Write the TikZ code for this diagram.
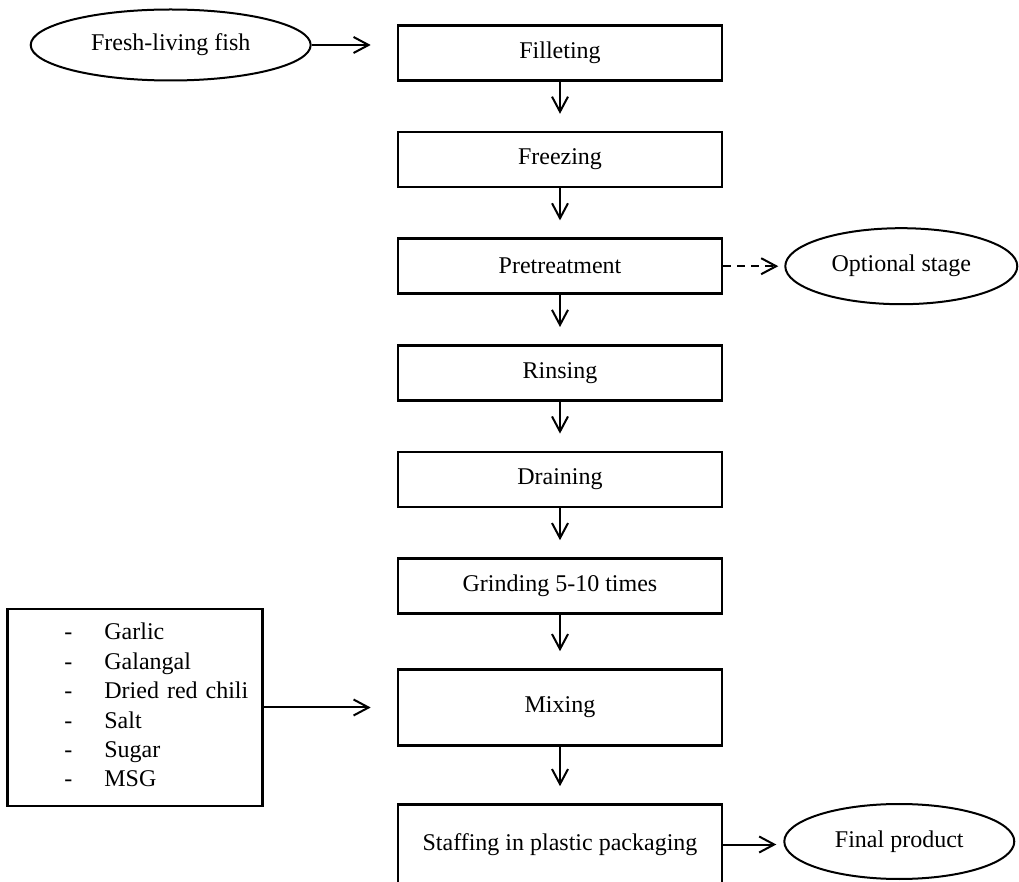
\documentclass[tikz,border=0pt]{standalone}
\usepackage{fontspec}
\setmainfont{Liberation Serif}
\usetikzlibrary{shapes.geometric, arrows.meta, positioning}

\begin{document}
\begin{tikzpicture}[
    node distance=24.5pt,
    font=\fontsize{12}{14.7}\selectfont,
    box/.style={rectangle, draw, line width=1.3pt, minimum width=162pt, minimum height=27.5pt, inner sep=0pt},
    oval/.style={ellipse, draw, line width=1pt, inner sep=0pt},
    arrow/.style={-{Straight Barb[length=7.5pt, width=8pt]}, line width=1pt}
]
    \useasboundingbox (-280pt,26.5pt) rectangle (229.5pt,-414.5pt);

    % Nodes
    \node[box] (fillet) {Filleting};
    \node[box, below=of fillet] (freeze) {Freezing};
    \node[box, below=of freeze] (pret) {Pretreatment};
    \node[box, below=of pret] (rinse) {Rinsing};
    \node[box, below=of rinse] (drain) {Draining};
    \node[box, below=of drain] (grind) {Grinding 5-10 times};
    \node[box, minimum height=38pt, below=26.7pt of grind] (mix) {Mixing};
    \node[box, minimum height=40pt, below=28.2pt of mix] (staff) {Staffing in plastic packaging};

    \node[oval, minimum width=140pt, minimum height=35.5pt, left=42.5pt of fillet, yshift=4pt] (fish) {Fresh-living fish};
    \node[oval, minimum width=116pt, minimum height=38pt, right=30.5pt of pret] (opt) {Optional stage};
    \node[oval, minimum width=115pt, minimum height=37.5pt, right=30pt of staff, yshift=1.5pt] (final) {Final product};
    \node[draw, line width=1.3pt, text width=127.5pt, minimum height=98.5pt, inner xsep=0pt, align=left, left=66.5pt of mix] (ingr) {%
        \noindent\begin{tabular}{@{\hspace{28.5pt}}l@{\hspace{16pt}}l@{}}
            - & Garlic\\
            - & Galangal\\
            - & Dried red chili\\
            - & Salt\\
            - & Sugar\\
            - & MSG
        \end{tabular}};

    % Arrows
    \draw[arrow, shorten >=13pt] (fish.east) -- (fish.east -| fillet.west);
    \foreach \a/\b in {fillet/freeze, freeze/pret, pret/rinse, rinse/drain, drain/grind, grind/mix, mix/staff}
        \draw[arrow, shorten >=8.5pt] (\a) -- (\b);
    \draw[arrow, dash pattern=on 4pt off 3pt, shorten >=3pt] (pret.east) -- (opt.west);
    \draw[arrow, shorten >=13pt] (ingr.east) -- (ingr.east -| mix.west);
    \draw[arrow, shorten >=3.5pt] (staff.east) -- (staff.east -| final.west);
\end{tikzpicture}
\end{document}
